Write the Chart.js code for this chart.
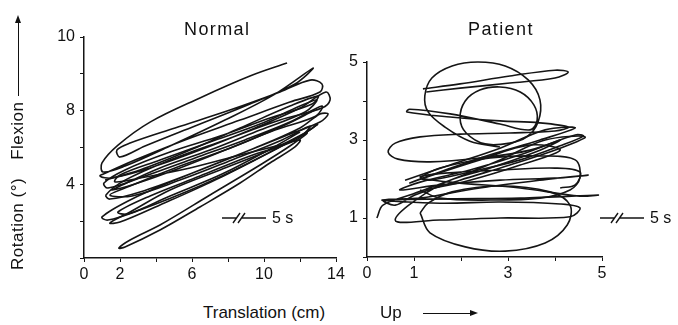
<!DOCTYPE html>
<html>
<head>
<meta charset="utf-8">
<script src="https://cdn.jsdelivr.net/npm/chart.js@4"></script>
<style>
  body { margin: 0; background: #fff; width: 678px; height: 325px; overflow: hidden; position: relative;
         font-family: "Liberation Sans", Arial, sans-serif; color: #111; }
  canvas { position: absolute; top: 0; }
  #normal-chart { left: 0; }
  #patient-chart { left: 340px; }
  .txt { position: absolute; white-space: nowrap; line-height: 20px; }
  .panel-title { font-size: 18px; letter-spacing: 1.4px; top: 19px; }
  .arrow { display: inline-block; height: 1.3px; background: #111; vertical-align: middle; position: relative; }
  .arrow::after { content: ""; position: absolute; right: -7px; top: -3px;
                  border-left: 8px solid #111; border-top: 3.5px solid transparent; border-bottom: 3.5px solid transparent; }
  #y-title { left: 8px; top: 270px; transform: rotate(-90deg); transform-origin: left top; font-size: 17px; letter-spacing: 0.5px; }
</style>
</head>
<body>
<canvas id="normal-chart" width="350" height="300"></canvas>
<canvas id="patient-chart" width="338" height="300"></canvas>

<div class="txt panel-title" style="left:184px">Normal</div>
<div class="txt panel-title" style="left:468px">Patient</div>
<div class="txt" id="y-title">Rotation (°)<span style="margin-left:18px">Flexion</span><span class="arrow" style="width:74px;margin-left:6px"></span></div>
<div class="txt" style="left:203px;top:303px;font-size:17px">Translation (cm)</div>
<div class="txt" style="left:380px;top:303px;font-size:17px">Up</div>
<span class="arrow" style="position:absolute;left:423px;top:313px;width:48px"></span>

<script>
// Normal: translation (cm) vs rotation (y in tick-frame units, top tick = "10")
const normalTraceA = [
  [11.28,10.59],[9.22,9.88],[6.44,8.69],[3.67,7.38],[1.89,6.13],[1.0,5.16],[1.06,4.67],[2.28,4.99],
  [4.78,6.08],[7.83,7.49],[10.61,8.9],[12.72,10.31],[11.72,9.45],[9.22,8.36],[6.17,7.17],[3.39,6.08],
  [2.0,5.48],[1.83,5.86],[2.56,6.24],[5.06,7.06],[8.11,8.03],[10.89,9.01],[12.56,9.66],[13.22,9.45],
  [13.11,9.01],[11.44,8.47],[8.67,7.49],[5.61,6.41],[2.83,5.32],[1.33,4.67],[0.89,4.45],[1.56,4.34],
  [3.67,4.89],[6.44,5.86],[9.5,7.06],[12.0,8.14],[13.44,9.01],[13.67,8.58],[13.22,8.14],[10.89,7.49],
  [7.83,6.41],[4.78,5.32],[2.28,4.23],[1.22,3.42],[1.44,3.2],[3.11,3.58],[6.17,4.67],[9.22,5.86],
  [12.0,7.06],[13.11,7.82],[13.56,7.82],[13.11,7.38],[11.17,6.62],[8.11,5.43],[5.06,4.23],[2.56,3.15],
  [1.0,2.23],[1.33,2.06],[3.11,2.61],[6.44,3.91],[9.5,5.32],[12.0,6.62],[13.0,7.27]
];
const normalTraceB = [
  [13.0,7.27],[12.28,6.79],[10.33,5.86],[7.56,4.78],[4.78,3.69],[2.56,2.5],[1.44,1.9],[2.0,1.95],
  [4.22,2.88],[7.28,4.23],[10.33,5.75],[12.39,6.79],[11.44,6.08],[9.78,5.05],[7.0,3.42],[4.22,1.79],
  [2.56,0.98],[1.94,0.54],[2.28,0.6],[4.22,1.52],[6.44,2.77],[8.67,4.07],[10.33,5.16],[11.72,6.03],
  [12.0,6.41],[10.89,6.13],[8.67,5.59],[5.89,4.89],[3.11,4.34],[1.72,4.13],[2.0,4.51],[4.22,5.32],
  [7.0,6.3],[9.78,7.27],[12.0,8.25],[12.94,8.58],[12.28,7.93],[9.78,6.95],[7.0,5.86],[4.22,4.89],
  [2.0,3.91],[1.56,3.69],[2.83,4.02],[5.33,4.89],[8.39,6.08],[11.17,7.22],[12.83,8.03]
];
const normalTraceC = [
  [1.17,4.23],[3.11,4.78],[5.89,5.86],[8.67,7.06],[11.44,8.25],[13.0,8.79],[12.67,8.36],[10.33,7.6],
  [7.56,6.62],[4.78,5.75],[2.28,4.78],[1.11,4.07],[1.33,3.8],[3.39,4.45],[6.17,5.43],[8.94,6.41],
  [11.44,7.38],[13.22,8.25],[12.89,7.71],[10.61,6.95],[7.83,5.86],[5.06,4.89],[2.56,3.91],[1.44,3.42],
  [2.67,3.37],[5.33,4.23],[8.22,5.32],[11.0,6.41],[12.56,7.17],[11.78,6.41],[9.22,5.54],[6.44,4.45],
  [3.67,3.37],[1.89,2.5],[2.44,2.39],[4.78,3.37],[7.67,4.56],[10.44,5.97],[12.0,6.84]
];

// Patient: translation (cm) vs rotation (°)
const patientTraceA = [
  [2.83,2.82],[2.19,2.97],[1.66,3.33],[1.3,3.72],[1.23,4.13],[1.38,4.59],[1.81,4.9],[2.36,5.0],
  [2.94,4.9],[3.43,4.54],[3.68,4.03],[3.64,3.46],[3.4,3.08],[3.04,2.92],[2.51,2.9],[2.11,3.18],
  [1.98,3.56],[2.09,4.0],[2.4,4.28],[2.83,4.36],[3.26,4.23],[3.55,3.9],[3.62,3.51],[3.47,3.26],
  [2.83,3.41],[1.77,3.67],[0.91,3.79],[0.85,3.72],[1.77,3.59],[2.83,3.49],[3.68,3.44],[4.28,3.33],
  [4.0,3.23],[3.04,3.18],[1.98,3.15],[1.13,3.08],[0.6,2.92],[0.45,2.69],[0.66,2.51],[1.34,2.44],
  [2.4,2.54],[3.47,2.74],[4.43,3.13],[4.6,3.1],[4.11,2.85],[3.26,2.49],[2.19,2.18],[1.34,1.97],
  [1.15,2.03],[1.55,2.28],[2.62,2.54],[3.68,2.59],[4.43,2.49],[4.53,2.03],[4.32,1.72],[3.68,1.51],
  [2.62,1.46],[1.55,1.51],[1.13,1.72]
];
const patientTraceB = [
  [1.19,4.31],[1.98,4.44],[3.04,4.64],[4.0,4.79],[4.28,4.74],[4.0,4.59],[3.04,4.46],[1.98,4.33],[1.26,4.23]
];
const patientTraceC = [
  [0.21,1.0],[0.34,1.33],[0.91,1.59],[1.77,1.97],[2.83,2.49],[3.79,3.0],[4.64,3.08],[4.11,2.79],
  [3.04,2.36],[1.98,1.97],[1.02,1.59],[0.6,1.33],[0.34,1.46],[1.13,1.51],[2.4,1.77],[3.68,1.97],
  [4.7,2.1],[4.11,2.03],[2.83,1.97],[1.55,1.85],[0.7,1.72],[1.13,1.92],[2.19,2.23],[3.26,2.62],
  [4.11,3.0],[3.68,2.74],[2.62,2.28],[1.55,1.85],[0.6,0.95],[1.55,0.95],[2.83,1.0],[4.32,1.03],
  [4.53,1.26],[4.11,1.36],[2.83,1.41],[1.55,1.38],[0.32,1.46],[1.77,1.49],[3.26,1.51],[4.91,1.59],
  [4.53,1.56],[3.26,1.77],[1.77,1.92],[1.13,2.05],[1.66,2.15],[2.83,2.23],[4.0,2.28],[4.53,2.18],
  [4.43,1.85],[4.11,1.77]
];
const patientTraceD = [
  [1.13,1.13],[1.34,0.62],[2.09,0.26],[2.94,0.15],[3.79,0.36],[4.26,0.82],[4.32,1.33],[3.89,1.67],
  [2.83,1.82],[1.81,1.67],[1.3,1.38],[1.13,1.13]
];
const patientTraceE = [
  [0.81,1.97],[1.77,2.36],[2.83,2.79],[3.79,3.26],[4.43,3.31],[3.68,3.0],[2.62,2.62],[1.55,2.18],
  [0.91,1.9],[1.34,2.08],[2.4,2.49],[3.47,2.87],[4.11,2.74],[3.26,2.36],[2.19,1.97],[1.23,1.72]
];

// tick labels: value -> printed text
const normalXTicks = { 0: '0', 2: '2', 6: '6', 10: '10', 14: '14' };
const normalYTicks = { 12: '10', 8: '8', 4: '4' };
const patientXTicks = { 0: '0', 1: '1', 3: '3', 5: '5' };
const patientYTicks = { 5: '5', 3: '3', 1: '1' };

Chart.defaults.font.family = '"Liberation Sans", Arial, sans-serif';
Chart.defaults.color = '#111';

const INK = '#151515';

function traceSet(points) {
  return {
    data: points.map(([x, y]) => ({ x, y })),
    showLine: true, borderColor: INK, borderWidth: 1.6,
    pointRadius: 0, tension: 0.35, clip: false,
  };
}

function axis(min, max, step, labels, fitSize, isX) {
  return {
    type: 'linear', min, max,
    afterFit: s => { if (isX) s.height = fitSize; else s.width = fitSize; },
    ticks: {
      stepSize: step, autoSkip: false, maxRotation: 0,
      padding: isX ? 3 : 5, font: { size: 16 }, color: '#111',
      callback: v => labels[v] ?? '',
    },
    grid: { drawOnChartArea: false, drawTicks: true, tickLength: 4, color: INK, lineWidth: 1 },
    border: { color: INK, width: 1.5 },
  };
}

// "—//— 5 s" time marker
function timeMark(x0, y) {
  return {
    id: 'timeMark',
    afterDraw(chart) {
      const c = chart.ctx;
      c.save();
      c.strokeStyle = INK; c.lineWidth = 1.4;
      c.beginPath();
      c.moveTo(x0, y); c.lineTo(x0 + 15, y);
      c.moveTo(x0 + 11, y + 5); c.lineTo(x0 + 18, y - 5);
      c.moveTo(x0 + 16, y + 5); c.lineTo(x0 + 23, y - 5);
      c.moveTo(x0 + 20, y); c.lineTo(x0 + 44, y);
      c.stroke();
      c.fillStyle = '#111';
      c.font = '16px "Liberation Sans", Arial, sans-serif';
      c.textBaseline = 'middle';
      c.fillText('5 s', x0 + 50, y + 1);
      c.restore();
    },
  };
}

new Chart(document.getElementById('normal-chart'), {
  type: 'scatter',
  data: { datasets: [traceSet(normalTraceA), traceSet(normalTraceB), traceSet(normalTraceC)] },
  options: {
    responsive: false, animation: false,
    layout: { padding: { top: 37, right: 14, left: 0, bottom: 0 } },
    plugins: { legend: { display: false }, tooltip: { enabled: false } },
    scales: {
      x: axis(0, 14, 2, normalXTicks, 42, true),
      y: axis(0, 12, 2, normalYTicks, 84, false),
    },
  },
  plugins: [timeMark(222, 218)],
});

new Chart(document.getElementById('patient-chart'), {
  type: 'scatter',
  data: { datasets: [patientTraceA, patientTraceB, patientTraceC, patientTraceD, patientTraceE].map(traceSet) },
  options: {
    responsive: false, animation: false,
    layout: { padding: { top: 62, right: 76, left: 0, bottom: 0 } },
    plugins: { legend: { display: false }, tooltip: { enabled: false } },
    scales: {
      x: axis(0, 5, 1, patientXTicks, 43, true),
      y: axis(0, 5, 1, patientYTicks, 27, false),
    },
  },
  plugins: [timeMark(260, 218)],
});
</script>
</body>
</html>
